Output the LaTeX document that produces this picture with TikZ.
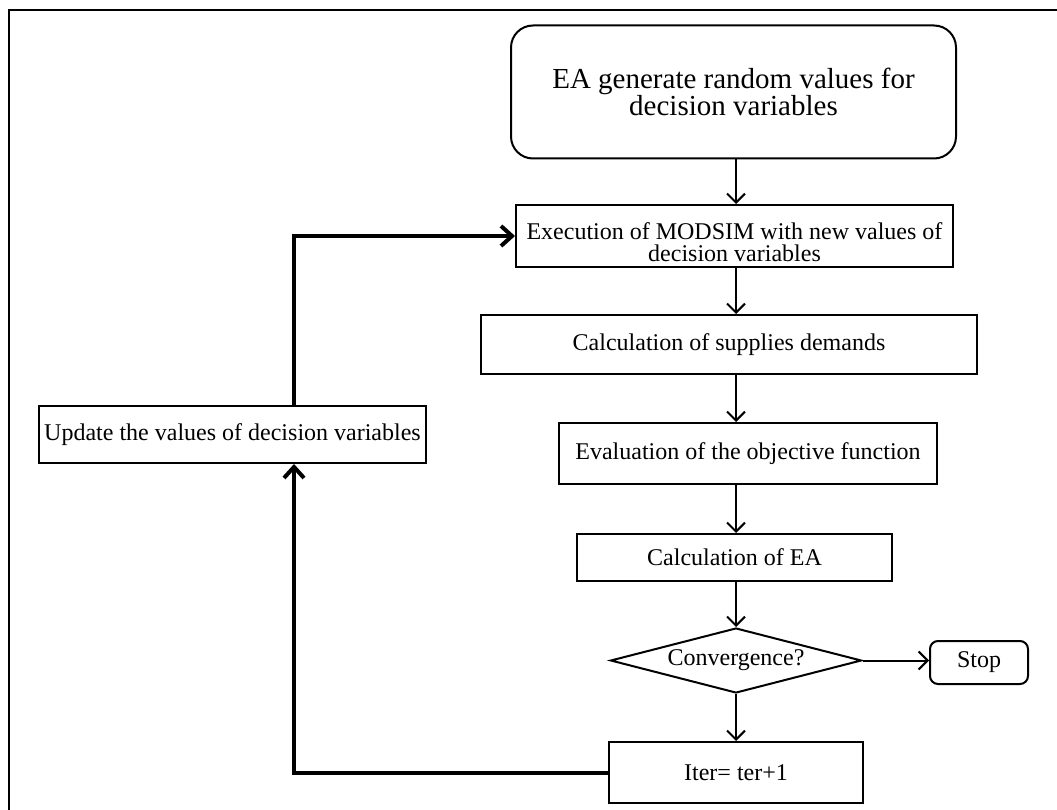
\documentclass[tikz,border=0pt]{standalone}
\usepackage{fontspec}
\setmainfont{Liberation Serif}
\usetikzlibrary{shapes.geometric,arrows.meta}
\begin{document}
\begin{tikzpicture}[x=1pt,y=-1pt,
  procbox/.style={draw,line width=2pt,rectangle,inner sep=2pt,align=center,font=\fontsize{24}{22}\selectfont},
  arr/.style={line width=2pt,-{Straight Barb[length=9pt,width=18pt]}},
  backarr/.style={line width=4pt,-{Straight Barb[length=11pt,width=20pt]}}]
\useasboundingbox (0,0) rectangle (1057,810);
\begin{scope}
\clip (0,0) rectangle (1057,810);
\draw[line width=2pt] (9,10) rectangle (1200,1000);
\end{scope}
\node[procbox,rounded corners=22pt,minimum width=445pt,minimum height=133pt,font=\fontsize{29}{27}\selectfont] (start) at (733.5,92) {EA generate random values for\\decision variables};
\node[procbox,minimum width=437pt,minimum height=62pt] (exec) at (734.5,236) {\raisebox{-6pt}[\height][\depth]{\parbox{430pt}{\centering Execution of MODSIM with new values of\\decision variables}}};
\node[procbox,minimum width=496pt,minimum height=59pt] (calc) at (729,344.5) {Calculation of supplies demands};
\node[procbox,minimum width=378pt,minimum height=61pt] (eval) at (748,453.5) {Evaluation of the objective function};
\node[procbox,minimum width=315pt,minimum height=47pt] (cea) at (734.5,557.5) {Calculation of EA};
\node[procbox,diamond,aspect=3.86,inner sep=0pt,minimum width=251pt,minimum height=65pt] (conv) at (736,660.5) {Convergence?};
\node[procbox,rounded corners=8pt,minimum width=98pt,minimum height=43pt] (stop) at (979,662.5) {Stop};
\node[procbox,minimum width=254pt,minimum height=61pt] (iter) at (736,772.5) {Iter= ter+1};
\node[procbox,minimum width=387pt,minimum height=57pt] (upd) at (232.5,434.5) {Update the values of decision variables};
\coordinate (col) at (736,0);
\coordinate (lp) at (294,0);
\draw[arr] (col |- start.south) -- (col |- exec.north);
\draw[arr] (col |- exec.south) -- (col |- calc.north);
\draw[arr] (col |- calc.south) -- (col |- eval.north);
\draw[arr] (col |- eval.south) -- (col |- cea.north);
\draw[arr] (col |- cea.south) -- (conv.north);
\draw[arr] (conv.east) -- (conv.east -| stop.west);
\draw[arr] (conv.south) -- (col |- iter.north);
\draw[backarr] (iter.west) -| (lp |- upd.south);
\draw[backarr] (lp |- upd.north) |- (exec.west);
\end{tikzpicture}
\end{document}
